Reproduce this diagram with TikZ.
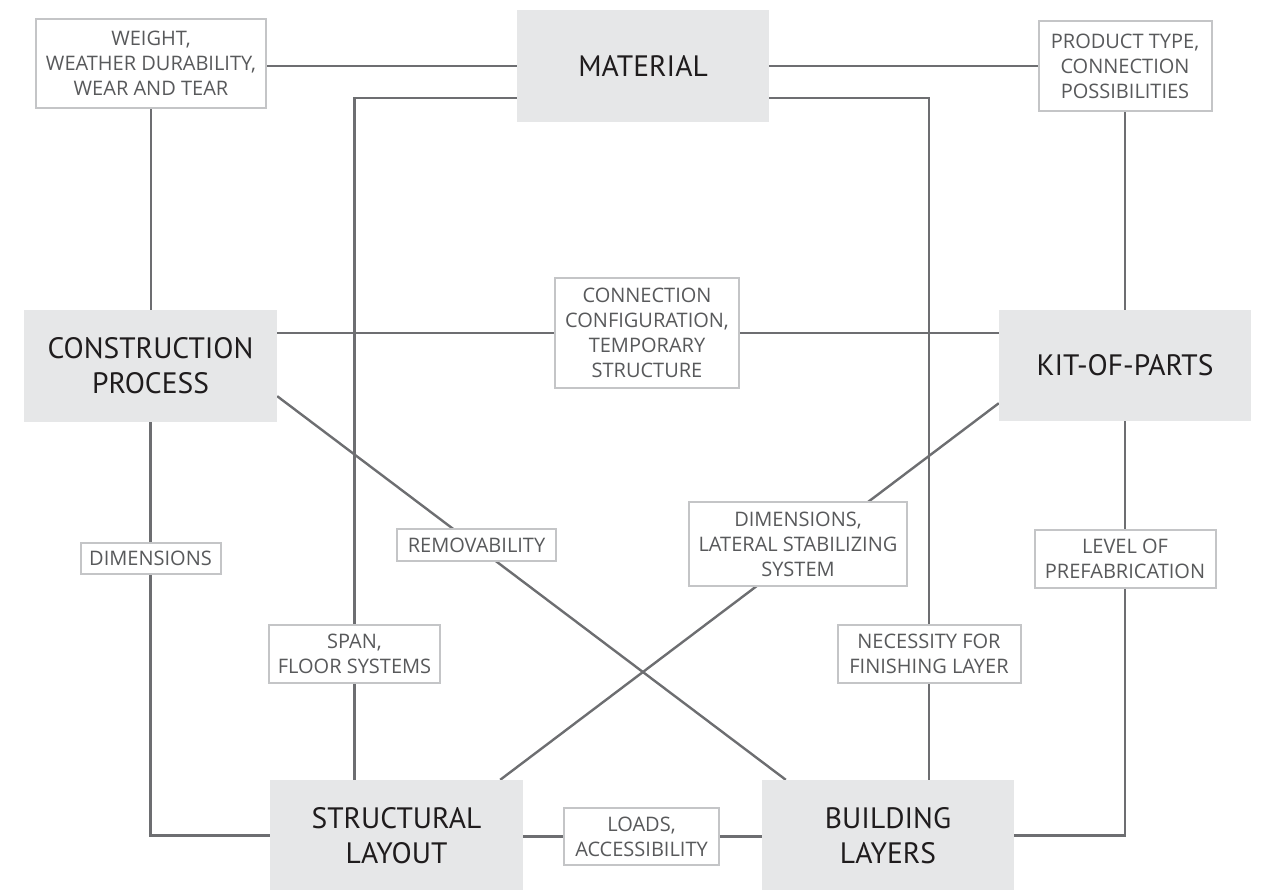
\documentclass[tikz,border=0pt]{standalone}
\usepackage{fontspec}
\newfontfamily\mainfont{PT Sans}
\newfontfamily\labfont{Open Sans}
\pgfdeclarelayer{bg}
\pgfsetlayers{bg,main}
\definecolor{boxfill}{HTML}{E6E7E8}
\definecolor{linecol}{HTML}{6D6E71}
\definecolor{labline}{HTML}{C4C5C7}
\definecolor{labtext}{HTML}{58595B}
\definecolor{maintext}{HTML}{1F1C1D}
\tikzset{
  mainbox/.style={fill=boxfill, draw=none, align=center, inner sep=0pt,
    font=\mainfont\fontsize{29.5}{35}\selectfont, text=maintext},
  labelbox/.style={fill=white, draw=labline, line width=2pt, align=center, inner sep=0pt,
    font=\labfont\fontsize{20}{25}\selectfont, text=labtext},
  link/.style={draw=linecol, line width=2.4pt}
}
\begin{document}
\begin{tikzpicture}[x=1pt,y=-1pt]
\useasboundingbox (0,0) rectangle (1265,890);

% main topics
\node[mainbox, minimum width=252pt, minimum height=112pt] (mat) at (643,66) {MATERIAL};
\node[mainbox, minimum width=253pt, minimum height=112pt] (cons) at (150.5,366) {CONSTRUCTION\\PROCESS};
\node[mainbox, minimum width=252pt, minimum height=111pt] (kit) at (1125,365.5) {KIT-OF-PARTS};
\node[mainbox, minimum width=253pt, minimum height=111pt] (struct) at (396.5,835.5) {STRUCTURAL\\LAYOUT};
\node[mainbox, minimum width=252pt, minimum height=111pt] (build) at (888,835.5) {BUILDING\\LAYERS};

% relation labels
\node[labelbox, minimum width=230pt, minimum height=89pt] (weight) at (151,63.5) {WEIGHT,\\WEATHER DURABILITY,\\WEAR AND TEAR};
\node[labelbox, minimum width=173pt, minimum height=90pt] (product) at (1125,66) {PRODUCT TYPE,\\CONNECTION\\POSSIBILITIES};
\node[labelbox, minimum width=184pt, minimum height=110pt] (conn) at (647,333) {CONNECTION\\CONFIGURATION,\\TEMPORARY\\STRUCTURE};
\node[labelbox, minimum width=140pt, minimum height=31pt] (dims) at (150.5,558.5) {DIMENSIONS};
\node[labelbox, minimum width=159pt, minimum height=32pt] (remov) at (476.5,545) {REMOVABILITY};
\node[labelbox, minimum width=171pt, minimum height=58pt] (span) at (354.5,654) {SPAN,\\FLOOR SYSTEMS};
\node[labelbox, minimum width=218pt, minimum height=84pt] (dimlat) at (798,544) {DIMENSIONS,\\LATERAL STABILIZING\\SYSTEM};
\node[labelbox, minimum width=181pt, minimum height=58pt] (level) at (1125,559) {LEVEL OF\\PREFABRICATION};
\node[labelbox, minimum width=183pt, minimum height=58pt] (nec) at (929,654) {NECESSITY FOR\\FINISHING LAYER};
\node[labelbox, minimum width=155pt, minimum height=57pt] (loads) at (641.5,836.5) {LOADS,\\ACCESSIBILITY};

\coordinate (inner) at (0,98);

\begin{pgfonlayer}{bg}
  % top row
  \draw[link] (weight.east |- mat.west) -- (mat.west);
  \draw[link] (mat.east |- product.west) -- (product.west);
  % inner frame from material
  \draw[link] (mat.west |- inner) -| (span.north);
  \draw[link] (span.south) -- (span.south |- struct.north);
  \draw[link] (mat.east |- inner) -| (nec.north);
  \draw[link] (nec.south) -- (nec.south |- build.north);
  % left side
  \draw[link] (weight.south) -- (weight.south |- cons.north);
  \draw[link] (cons.south) -- (dims.north);
  \draw[link] (dims.south) |- (struct.west);
  % right side
  \draw[link] (product.south) -- (kit.north);
  \draw[link] (kit.south) -- (level.north);
  \draw[link] (level.south) |- (build.east);
  % middle row
  \draw[link] (cons.east |- conn.west) -- (conn.west);
  \draw[link] (conn.east) -- (conn.east -| kit.west);
  % diagonals
  \draw[link] ([yshift=26pt]cons.south east) -- ([xshift=24pt]build.north west);
  \draw[link] ([yshift=18pt]kit.south west) -- ([xshift=-23pt]struct.north east);
  % bottom row
  \draw[link] (struct.east |- loads.west) -- (loads.west);
  \draw[link] (loads.east) -- (loads.east -| build.west);
\end{pgfonlayer}
\end{tikzpicture}
\end{document}
